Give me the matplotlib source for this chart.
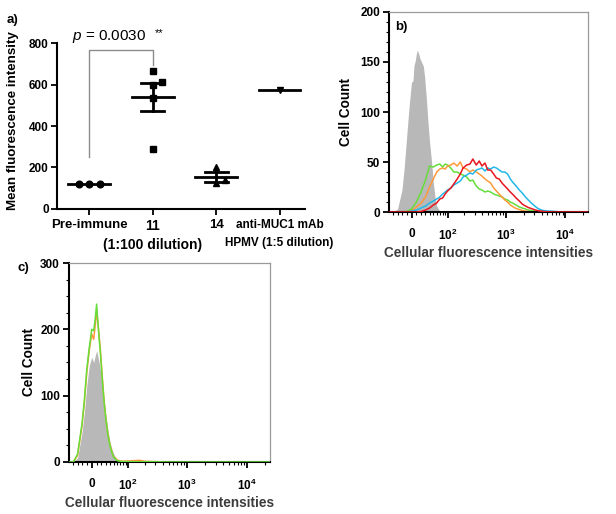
import numpy as np
import matplotlib
matplotlib.use("Agg")
import matplotlib.pyplot as plt
from matplotlib.ticker import FixedLocator, NullFormatter

plt.rcParams["font.family"] = ["Liberation Sans", "DejaVu Sans"]
plt.rcParams["font.weight"] = "bold"
plt.rcParams["axes.labelweight"] = "bold"
plt.rcParams["mathtext.fontset"] = "custom"
plt.rcParams["mathtext.rm"] = "Liberation Sans:bold"
plt.rcParams["mathtext.bf"] = "Liberation Sans:bold"
plt.rcParams["mathtext.it"] = "Liberation Sans:italic:normal"

# ---------------- panel a: mean fluorescence intensity ----------------
groups = ["Pre-immune", "11\n(1:100 dilution)", "14", "anti-MUC1 mAb\nHPMV (1:5 dilution)"]
pre_immune = [120, 120, 120]
serum_11 = [667, 612, 598, 533, 289]
serum_14 = [200, 140, 125]
anti_muc1 = [575]
p_label = "$p$ = 0.0030"

# ---------------- panel b: flow cytometry histograms ----------------
b_x = [-50, -40, -30, -20, -10, 0, 10, 20, 30, 40, 50, 60, 70, 80, 90,
       100, 115, 130, 150, 170, 190, 220, 250, 280, 320, 360, 400,
       450, 500, 560, 630, 700, 780, 870, 970, 1080, 1200, 1350, 1500,
       1700, 1900, 2150, 2400, 2700, 3000, 3400, 3800, 4300, 5000, 6000, 7500,
       10000, 24000]
b_green = [0, 0, 0, 0, 0.5, 3, 10, 20, 32, 46, 45, 47, 48, 45, 48,
           47, 44, 40, 40, 38, 37, 35, 31, 32, 26, 23, 22,
           20, 21, 20, 18, 17, 16, 15, 13, 12, 10, 8.5, 7,
           5, 4, 3, 2, 1.5, 1, 0.5, 0, 0, 0, 0, 0,
           0, 0]
b_orange = [0, 0, 0, 0, 0, 1, 5, 9, 15, 25, 33, 40, 43, 44, 43,
            46, 47, 49, 46, 50, 44, 43, 40, 42, 40, 38, 36,
            33, 31, 29, 24, 21, 18, 15, 12, 10, 7, 5, 3.5,
            2.5, 1.5, 1, 0.5, 0.2, 0, 0, 0, 0, 0, 0, 0,
            0, 0]
b_red = [0, 0, 0, 0, 0, 0, 0, 0.5, 2, 4, 7, 9, 13, 14, 18,
         21, 24, 28, 33, 38, 44, 47, 48, 53, 47, 51, 46,
         49, 42, 42, 38, 34, 33, 29, 26, 23, 20, 17, 14,
         11, 8, 6, 4.5, 3.5, 2.5, 1.5, 1, 0.5, 0.2, 0, 0,
         0, 0]
b_blue = [0, 0, 0, 0, 0, 1, 2, 4, 6, 9, 11, 13, 15, 18, 20,
          22, 24, 27, 29, 31, 35, 37, 39, 38, 42, 43, 44,
          41, 44, 43, 45, 44, 42, 40, 40, 38, 33, 29, 26,
          22, 19, 15, 12, 9, 6.5, 4, 2.5, 1.5, 1, 0.8, 0.3,
          0, 0]
b_gray_x = [-40, -30, -20, -15, -10, -5, 0, 3, 5, 8, 10, 12, 15, 18, 22,
            25, 28, 32, 36, 40, 45, 50, 55, 60, 70, 80]
b_gray = [0, 3, 22, 45, 75, 105, 130, 131, 146, 152, 158, 162, 158, 153, 149,
          146, 135, 114, 90, 70, 51, 30, 15, 6, 1, 0]

# ---------------- panel c ----------------
c_x = [-50, -40, -30, -20, -15, -10, -5, 0, 4, 7, 10, 14, 18, 22, 26, 30,
       35, 40, 45, 50, 60, 70, 80, 100, 130, 160, 200, 300, 500, 1000, 24000]
c_gray = [0, 0, 6, 45, 75, 115, 145, 158, 150, 160, 168, 155, 138, 115, 92, 70,
          48, 30, 20, 12, 3, 0, 0, 0, 0, 0, 0, 0, 0, 0, 0]
c_green = [0, 0, 12, 58, 94, 140, 172, 200, 198, 215, 238, 197, 163, 124, 90, 65,
           40, 25, 14, 7, 2, 1, 0.5, 0.5, 0.3, 0.3, 0.3, 0.2, 0, 0, 0]
c_orange = [0, 0, 10, 55, 90, 135, 168, 193, 185, 205, 228, 200, 168, 128, 93, 66,
            42, 26, 15, 8, 3, 1.5, 1, 1.5, 2, 2.5, 1, 0.5, 0, 0, 0]

GREEN = "#66dd3a"
ORANGE = "#ff9a3c"
RED = "#e8161e"
BLUE = "#22b8e8"
GRAY = "#b8b8b8"

fig = plt.figure(figsize=(6.16, 5.14), dpi=100)

# ---------------------------- panel a ----------------------------
ax = fig.add_axes([0.0925, 0.5934, 0.4025, 0.3229])
sets = [
    (pre_immune, "o", [-0.17, 0, 0.17]),
    (serum_11, "s", [0, 0.15, 0, 0, 0]),
    (serum_14, "^", [0, 0.14, 0]),
    (anti_muc1, "v", [0]),
]
for i, (vals, mk, jit) in enumerate(sets):
    vals = np.asarray(vals, dtype=float)
    ax.plot(i + np.asarray(jit), vals, ls="none", marker=mk, ms=4.8,
            color="black", clip_on=False, zorder=3)
    m = vals.mean()
    ax.plot([i - 0.33, i + 0.33], [m, m], color="black", lw=2, zorder=2)
    if len(vals) > 1 and vals.std() > 0:
        sem = vals.std(ddof=1) / np.sqrt(len(vals))
        ax.plot([i, i], [m - sem, m + sem], color="black", lw=2, zorder=2)
        for y in (m - sem, m + sem):
            ax.plot([i - 0.18, i + 0.18], [y, y], color="black", lw=2, zorder=2)

# significance bracket
ax.plot([0, 0, 1, 1], [250, 766, 766, 692], color="#8c8c8c", lw=1, clip_on=False)
ax.text(-0.27, 832, p_label, fontsize=11, fontweight="normal", va="center",
        ha="left")
ax.text(1.04, 846, "**", fontsize=8, fontweight="normal", va="center", ha="left")

ax.set_xlim(-0.51, 3.4)
ax.set_ylim(0, 800)
ax.set_yticks([0, 200, 400, 600, 800])
ax.set_xticks(range(len(groups)))
ax.set_xticklabels(groups, fontsize=9.5, linespacing=1.45)
xl = ax.get_xticklabels()
xl[1].set_fontsize(10)
xl[3].set_fontsize(8.5)
xl[3].set_linespacing(1.7)
ax.tick_params(axis="y", labelsize=8.5, length=4, width=1.3, pad=2)
ax.tick_params(axis="x", length=4, width=1.3, pad=3)
for s in ("top", "right"):
    ax.spines[s].set_visible(False)
for s in ("left", "bottom"):
    ax.spines[s].set_linewidth(1.5)
ax.set_ylabel("Mean fluorescence intensity", fontsize=9.6)
ax.yaxis.set_label_coords(-0.155, 0.53)

fig.text(0.011, 0.962, "a)", fontsize=9.5, va="center", ha="left")


# ----------------------- flow cytometry axes -----------------------
def flow_axes(rect, ymax, ymajor, yminor, ylab_x):
    a = fig.add_axes(rect)
    a.set_xscale("function", functions=(lambda x: np.arcsinh(np.asarray(x) / 53.0),
                                        lambda y: 53.0 * np.sinh(y)))
    a.set_xlim(-52, 24000)
    a.set_ylim(0, ymax)
    a.xaxis.set_major_locator(FixedLocator([0, 100, 1000, 10000]))
    a.set_xticklabels(["0", r"$\mathbf{10^2}$", r"$\mathbf{10^3}$", r"$\mathbf{10^4}$"])
    minors = [-40, -30, -20, -10] + [k * 10 for k in range(1, 10)] + \
             [k * 100 for k in range(2, 10)] + [k * 1000 for k in range(2, 10)] + [20000]
    a.xaxis.set_minor_locator(FixedLocator(minors))
    a.xaxis.set_minor_formatter(NullFormatter())
    a.yaxis.set_major_locator(FixedLocator(ymajor))
    a.yaxis.set_minor_locator(FixedLocator(yminor))
    a.tick_params(axis="both", which="major", length=4.5, width=1.3, labelsize=8.5, pad=2)
    a.tick_params(axis="x", which="major", pad=7)
    a.tick_params(axis="both", which="minor", length=2.2, width=0.8)
    for s in ("top", "right"):
        a.spines[s].set_color("#9a9a9a")
        a.spines[s].set_linewidth(0.9)
    for s in ("left", "bottom"):
        a.spines[s].set_linewidth(1.5)
    a.set_ylabel("Cell Count", fontsize=9.8)
    a.yaxis.set_label_coords(ylab_x, 0.5)
    a.set_xlabel("Cellular fluorescence intensities", fontsize=9.8, color="#3c3c3c")
    a.xaxis.set_label_coords(0.5, -0.17)
    return a


# ---------------------------- panel b ----------------------------
axb = flow_axes([0.6315, 0.5875, 0.323, 0.3892], 200, [0, 50, 100, 150, 200],
                [v for v in range(10, 200, 10) if v % 50], -0.18)
axb.fill_between(b_gray_x, b_gray, color=GRAY, lw=0, zorder=1)
axb.plot(b_x, b_green, color=GREEN, lw=1.1, zorder=2)
axb.plot(b_x, b_orange, color=ORANGE, lw=1.1, zorder=2)
axb.plot(b_x, b_blue, color=BLUE, lw=1.1, zorder=2)
axb.plot(b_x, b_red, color=RED, lw=1.1, zorder=3)
axb.text(0.03, 0.955, "b)", transform=axb.transAxes, fontsize=9.5, va="top", ha="left")

# ---------------------------- panel c ----------------------------
axc = flow_axes([0.112, 0.1012, 0.3263, 0.3871], 300, [0, 100, 200, 300],
                [v for v in range(25, 300, 25) if v % 100], -0.165)
axc.fill_between(c_x, c_gray, color=GRAY, lw=0, zorder=1)
axc.plot(c_x, c_orange, color=ORANGE, lw=1.1, zorder=2)
axc.plot(c_x, c_green, color=GREEN, lw=1.1, zorder=3)
fig.text(0.028, 0.478, "c)", fontsize=9.5, va="center", ha="left")

fig.savefig("out.png", dpi=100, facecolor="white")
